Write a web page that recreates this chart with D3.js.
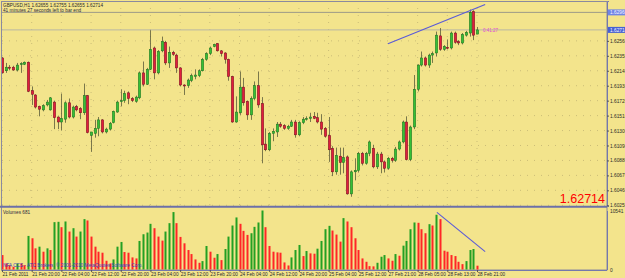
<!DOCTYPE html>
<html>
<head>
<meta charset="utf-8">
<script src="https://d3js.org/d3.v7.min.js"></script>
<style>
  body { margin: 0; background: #f3e48c; }
  svg { display: block; font-family: "Liberation Sans", Arial, sans-serif; }
</style>
</head>
<body>
<svg width="625" height="278"></svg>
<script>
// GBPUSD H1 bars, 21 Feb 12:00 .. 28 Feb 21:00
const opens = [1.6232,1.6214,1.6219,1.6219,1.6215,1.6223,1.6223,1.6226,1.6186,1.6180,
  1.6164,1.6159,1.6166,1.6159,1.6170,1.6149,1.6142,1.6146,1.6169,1.6149,
  1.6164,1.6161,1.6155,1.6179,1.6123,1.6126,1.6133,1.6145,1.6128,1.6132,
  1.6141,1.6156,1.6171,1.6172,1.6183,1.6175,1.6171,1.6176,1.6211,1.6195,
  1.6216,1.6246,1.6211,1.6242,1.6254,1.6225,1.6240,1.6236,1.6218,1.6194,
  1.6193,1.6200,1.6206,1.6207,1.6214,1.6230,1.6238,1.6248,1.6252,1.6242,
  1.6239,1.6230,1.6206,1.6142,1.6155,1.6191,1.6171,1.6152,1.6175,1.6193,
  1.6168,1.6111,1.6103,1.6126,1.6128,1.6139,1.6137,1.6133,1.6136,1.6142,
  1.6124,1.6141,1.6146,1.6147,1.6150,1.6148,1.6142,1.6133,1.6123,1.6105,
  1.6072,1.6094,1.6085,1.6093,1.6041,1.6072,1.6074,1.6098,1.6084,1.6098,
  1.6105,1.6079,1.6097,1.6086,1.6077,1.6091,1.6088,1.6104,1.6114,1.6142,
  1.6089,1.6135,1.6188,1.6222,1.6232,1.6222,1.6236,1.6239,1.6263,1.6244,
  1.6247,1.6246,1.6267,1.6255,1.6253,1.6264,1.6267,1.6297,1.62655];
const highs = [1.6233,1.6225,1.6222,1.6221,1.6225,1.6226,1.6227,1.6227,1.6192,1.6181,
  1.6165,1.6167,1.6173,1.6177,1.6172,1.6150,1.6182,1.6171,1.6175,1.6165,
  1.6166,1.6163,1.6196,1.6180,1.6128,1.6145,1.6149,1.6146,1.6134,1.6142,
  1.6158,1.6172,1.6188,1.6186,1.6185,1.6177,1.6179,1.6213,1.6227,1.6218,
  1.6271,1.6248,1.6243,1.6262,1.6256,1.6248,1.6242,1.6238,1.6219,1.6195,
  1.6203,1.6210,1.6216,1.6216,1.6232,1.6240,1.6248,1.6252,1.6253,1.6243,
  1.6240,1.6231,1.6207,1.6178,1.6213,1.6204,1.6172,1.6178,1.6199,1.6213,
  1.6177,1.6133,1.6128,1.6133,1.6142,1.6142,1.6139,1.6138,1.6145,1.6145,
  1.6143,1.6149,1.6150,1.6155,1.6156,1.6155,1.6153,1.6135,1.6149,1.6108,
  1.6106,1.6106,1.6106,1.6095,1.6074,1.6091,1.6100,1.6100,1.6100,1.6116,
  1.6110,1.6100,1.6100,1.6088,1.6093,1.6093,1.6107,1.6116,1.6144,1.6150,
  1.6137,1.6208,1.6223,1.6241,1.6234,1.6238,1.6241,1.6269,1.6274,1.6250,
  1.6258,1.6269,1.6269,1.6257,1.6267,1.6270,1.6300,1.6299,1.62755];
const lows = [1.6210,1.6211,1.6215,1.6214,1.6213,1.6211,1.6222,1.6184,1.6166,1.6161,
  1.6150,1.6157,1.6164,1.6158,1.6132,1.6132,1.6130,1.6141,1.6147,1.6147,
  1.6157,1.6146,1.6152,1.6126,1.6100,1.6120,1.6122,1.6126,1.6126,1.6130,
  1.6140,1.6155,1.6164,1.6169,1.6167,1.6170,1.6169,1.6174,1.6192,1.6194,
  1.6215,1.6202,1.6209,1.6240,1.6222,1.6218,1.6235,1.6211,1.6192,1.6180,
  1.6190,1.6198,1.6202,1.6205,1.6213,1.6228,1.6236,1.6247,1.6241,1.6234,
  1.6224,1.6200,1.6141,1.6141,1.6152,1.6165,1.6145,1.6145,1.6173,1.6162,
  1.6084,1.6101,1.6101,1.6115,1.6121,1.6134,1.6131,1.6131,1.6135,1.6120,
  1.6122,1.6139,1.6144,1.6142,1.6146,1.6140,1.6124,1.6120,1.6086,1.6066,
  1.6068,1.6068,1.6070,1.6040,1.6037,1.6060,1.6071,1.6081,1.6082,1.6094,
  1.6077,1.6076,1.6070,1.6071,1.6075,1.6085,1.6086,1.6102,1.6112,1.6088,
  1.6087,1.6132,1.6185,1.6220,1.6220,1.6218,1.6225,1.6234,1.6242,1.6242,
  1.6244,1.6244,1.6252,1.6250,1.6251,1.6262,1.6262,1.6257,1.62655];
const closes = [1.6211,1.6219,1.6218,1.6215,1.6222,1.6224,1.6226,1.6185,1.6181,1.6163,
  1.6160,1.6165,1.6170,1.6176,1.6148,1.6142,1.6147,1.6169,1.6149,1.6163,
  1.6159,1.6155,1.6179,1.6127,1.6128,1.6133,1.6145,1.6128,1.6132,1.6140,
  1.6157,1.6170,1.6172,1.6182,1.6175,1.6172,1.6177,1.6211,1.6195,1.6216,
  1.6244,1.6211,1.6241,1.6255,1.6225,1.6240,1.6237,1.6218,1.6194,1.6193,
  1.6201,1.6207,1.6208,1.6214,1.6230,1.6238,1.6246,1.6251,1.6242,1.6238,
  1.6230,1.6206,1.6142,1.6156,1.6191,1.6169,1.6152,1.6175,1.6193,1.6166,
  1.6110,1.6103,1.6126,1.6129,1.6139,1.6136,1.6133,1.6136,1.6142,1.6124,
  1.6141,1.6146,1.6147,1.6149,1.6147,1.6142,1.6132,1.6122,1.6103,1.6072,
  1.6095,1.6085,1.6092,1.6041,1.6072,1.6074,1.6098,1.6084,1.6098,1.6114,
  1.6079,1.6097,1.6086,1.6077,1.6091,1.6088,1.6104,1.6114,1.6142,1.6089,
  1.6135,1.6188,1.6222,1.6232,1.6222,1.6236,1.6238,1.6264,1.6244,1.6248,
  1.6246,1.6267,1.6254,1.6253,1.6265,1.6268,1.6296,1.6264,1.62714];
const volumes = [2580,1080,780,480,1080,1080,780,6000,5580,3780,
  4080,3180,3780,3480,8460,8520,7560,8580,6780,7380,
  5880,6780,9000,8760,5880,4080,3180,3000,1560,1080,
  1800,4080,4920,3120,3000,2160,1980,5100,6300,6600,
  8160,7380,5880,5160,6780,8280,10260,8280,5820,4680,
  3480,2760,1800,1200,1500,4200,3180,2100,2760,1680,
  3660,5880,7860,9300,8160,6900,6180,6480,7620,8400,
  10541,7560,4200,3180,3060,3000,1260,720,2160,3480,
  4380,2400,3300,2880,2820,3720,5100,7200,7800,6960,
  6240,4980,9180,8580,7560,5580,3480,1980,1380,600,
  560,1200,2280,2580,1980,1560,2760,2460,4260,5100,
  7200,8400,8340,7200,6480,8100,7860,9780,9000,3360,
  3180,2580,2400,1380,960,1500,3480,3660,681];

const priceTicks = [1.6256,1.6235,1.6214,1.6193,1.6172,1.6151,1.6130,1.6109,1.6088,1.6067,1.6046,1.6025];
const timeLabels = ["21 Feb 2011","21 Feb 20:00","22 Feb 04:00","22 Feb 12:00","22 Feb 20:00",
  "23 Feb 04:00","23 Feb 12:00","23 Feb 20:00","24 Feb 04:00","24 Feb 12:00","24 Feb 20:00",
  "25 Feb 04:00","25 Feb 12:00","27 Feb 21:00","28 Feb 05:00","28 Feb 13:00","28 Feb 21:00"];
const labelStep = 8;
const volMax = 10541;
const highLevel = 1.6296;
const bid = 1.62714;
const priceTrend = [[104, 1.6252], [130.2, 1.6307]];
const volTrend = [[117.2, 10219], [130.2, 3181]];

const svg = d3.select("svg");
const axisX = 607;

const x = d3.scaleLinear().domain([0, 128]).range([2, 477]);
const y = d3.scaleLinear().domain([1.6024, 1.6312]).range([206, 1]);
const yv = d3.scaleLinear().domain([0, volMax]).range([269.5, 210.5]);

svg.append("clipPath").attr("id", "main").append("rect")
  .attr("x", 2).attr("y", 1).attr("width", axisX - 2).attr("height", 205);
svg.append("clipPath").attr("id", "vol").append("rect")
  .attr("x", 2).attr("y", 208).attr("width", axisX - 2).attr("height", 62);

// dotted grid
const grid = svg.append("g").attr("stroke", "#cbbd78").attr("stroke-dasharray", "1,6");
grid.selectAll("line.h").data(priceTicks).join("line")
  .attr("x1", 2).attr("x2", axisX).attr("y1", d => y(d)).attr("y2", d => y(d));
grid.selectAll("line.v").data(timeLabels).join("line")
  .attr("x1", (d, i) => x(i * labelStep)).attr("x2", (d, i) => x(i * labelStep))
  .attr("y1", 1).attr("y2", 206);

// frame
svg.append("rect").attr("x", 1.5).attr("y", 1.5).attr("width", axisX - 1.5).attr("height", 268.5)
  .attr("fill", "none").attr("stroke", "#8a8a9e");

// horizontal levels
svg.append("line").attr("x1", 2).attr("x2", axisX).attr("y1", y(highLevel)).attr("y2", y(highLevel))
  .attr("stroke", "#9c9a88").attr("stroke-width", 1);
svg.append("line").attr("x1", 2).attr("x2", axisX).attr("y1", y(bid)).attr("y2", y(bid))
  .attr("stroke", "#b9b7a4").attr("stroke-width", 1);

// candles
const bars = d3.range(opens.length);
const cg = svg.append("g").attr("clip-path", "url(#main)");
cg.selectAll("line.wick").data(bars).join("line")
  .attr("x1", i => Math.round(x(i)) + 0.5).attr("x2", i => Math.round(x(i)) + 0.5)
  .attr("y1", i => y(highs[i])).attr("y2", i => y(lows[i]))
  .attr("stroke", "#5b5a3a").attr("stroke-width", 0.8);
cg.selectAll("rect.body").data(bars).join("rect")
  .attr("x", i => Math.round(x(i)) - 0.7)
  .attr("width", 2.4)
  .attr("y", i => y(Math.max(opens[i], closes[i])))
  .attr("height", i => Math.max(1, Math.abs(y(opens[i]) - y(closes[i]))))
  .attr("fill", i => closes[i] >= opens[i] ? "#35c035" : "#e01e3c")
  .attr("stroke", i => closes[i] >= opens[i] ? "#1e6a1e" : "#70101c")
  .attr("stroke-width", 0.5);

// price trend line
svg.append("line")
  .attr("x1", x(priceTrend[0][0])).attr("y1", y(priceTrend[0][1]))
  .attr("x2", x(priceTrend[1][0])).attr("y2", y(priceTrend[1][1]))
  .attr("stroke", "#5a5ad8").attr("stroke-width", 1.1);

// header texts
svg.append("text").attr("x", 3).attr("y", 6.5).attr("font-size", 4.7).attr("fill", "#2a2a2a")
  .text("GBPUSD,H1  1.62655 1.62755 1.62655 1.62714");
svg.append("text").attr("x", 3).attr("y", 11.5).attr("font-size", 4.7).attr("fill", "#2a2a40")
  .text("41 minutes 27 seconds left to bar end");
svg.append("text").attr("x", x(128) + 6).attr("y", y(bid) + 2.5).attr("font-size", 4.5)
  .attr("fill", "#e048d8").text("0:41:27");

// big price label
svg.append("text").attr("x", 605).attr("y", 202.5).attr("text-anchor", "end")
  .attr("font-size", 12.5).attr("fill", "#ff0000").text(bid.toFixed(5));

// price axis
const ya = svg.append("g").attr("transform", `translate(${axisX},0)`)
  .call(d3.axisRight(y).tickValues(priceTicks).tickSize(2).tickPadding(1).tickFormat(d3.format(".5f")));
ya.select(".domain").attr("stroke", "#7478ac");
ya.selectAll(".tick line").attr("stroke", "#555");
ya.selectAll("text").attr("font-size", 4.8).attr("fill", "#2a2a2a").attr("font-family", "Liberation Sans, Arial");

// highlighted axis labels
[[highLevel, "#7085e6"], [bid, "#4660d2"]].forEach(([p, c]) => {
  svg.append("rect").attr("x", axisX + 1).attr("y", y(p) - 3).attr("width", 20).attr("height", 6).attr("fill", c);
  svg.append("text").attr("x", axisX + 3).attr("y", y(p) + 1.8).attr("font-size", 4.8)
    .attr("fill", "#f4f4ff").text(p.toFixed(5));
});

// panel separator
svg.append("line").attr("x1", 0).attr("x2", axisX).attr("y1", 206.8).attr("y2", 206.8)
  .attr("stroke", "#6c70a8").attr("stroke-width", 2);

// volumes
const vg = svg.append("g").attr("clip-path", "url(#vol)");
vg.selectAll("rect").data(bars).join("rect")
  .attr("x", i => Math.round(x(i)) - 0.5)
  .attr("width", 2)
  .attr("y", i => yv(volumes[i]))
  .attr("height", i => yv(0) - yv(volumes[i]))
  .attr("fill", i => i > 0 && volumes[i] > volumes[i - 1] ? "#23a023" : "#ff2626");

svg.append("line")
  .attr("x1", x(volTrend[0][0])).attr("y1", yv(volTrend[0][1]))
  .attr("x2", x(volTrend[1][0])).attr("y2", yv(volTrend[1][1]))
  .attr("stroke", "#5a5ad8").attr("stroke-width", 1.1);

svg.append("text").attr("x", 3).attr("y", 214).attr("font-size", 4.7).attr("fill", "#2a2a40")
  .text("Volumes " + volumes[volumes.length - 1]);
svg.append("text").attr("x", 3).attr("y", 267).attr("font-size", 4.7).attr("fill", "#3a3ac0")
  .text("NFA CCS - ATC Brokers, © 2001-2010 MetaQuotes Software Corp.");

const va = svg.append("g").attr("transform", `translate(${axisX},0)`)
  .call(d3.axisRight(yv).tickValues([0, volMax]).tickSize(0).tickPadding(3).tickFormat(d3.format("d")));
va.select(".domain").attr("stroke", "#7478ac");
va.selectAll("text").attr("font-size", 4.8).attr("fill", "#2a2a2a").attr("font-family", "Liberation Sans, Arial");

// time axis
const xa = svg.append("g").attr("transform", "translate(0,270)")
  .call(d3.axisBottom(x).tickValues(timeLabels.map((d, i) => i * labelStep))
    .tickSize(2).tickPadding(1).tickFormat((d, i) => timeLabels[i]));
xa.select(".domain").attr("stroke", "#7478ac").attr("d", `M1.5,0.5H${axisX}`);
xa.selectAll(".tick line").attr("stroke", "#555");
xa.selectAll("text").attr("font-size", 4.7).attr("fill", "#2a2a2a").attr("text-anchor", "start")
  .attr("font-family", "Liberation Sans, Arial");
</script>
</body>
</html>
